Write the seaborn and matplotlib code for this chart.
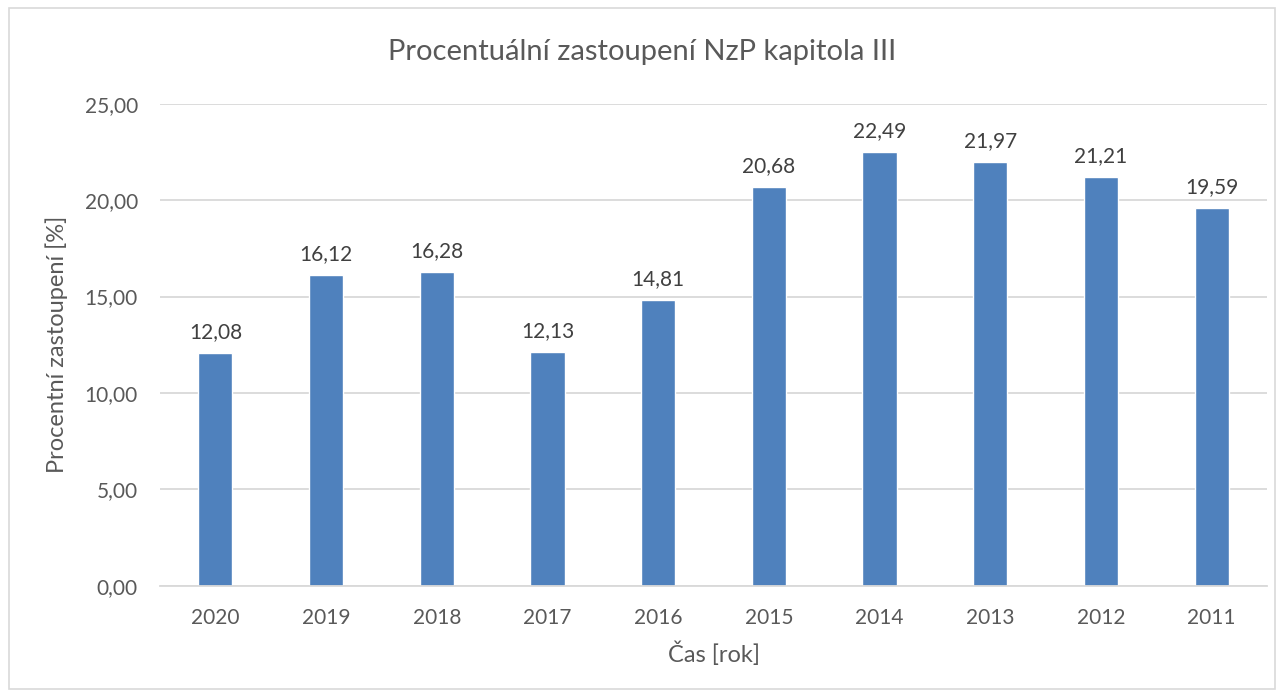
import matplotlib.pyplot as plt
import matplotlib.patches as patches
import pandas as pd
import seaborn as sns

years = ['2020', '2019', '2018', '2017', '2016', '2015', '2014', '2013', '2012', '2011']
shares = [12.08, 16.12, 16.28, 12.13, 14.81, 20.68, 22.49, 21.97, 21.21, 19.59]

BAR = '#4F81BD'
TXT = '#595959'
GRID = '#D9D9D9'

sns.set_theme(style='white')
plt.rcParams['font.family'] = ['Lato', 'DejaVu Sans']

px = 1 / 100
fig = plt.figure(figsize=(1284 * px, 697 * px), dpi=100)
ax = fig.add_axes([0.1246, 0.1597, 0.8622, 0.6915])

df = pd.DataFrame({'year': years, 'share': shares})
sns.barplot(data=df, x='year', y='share', color=BAR, width=0.31, saturation=1, ax=ax)

ax.set_ylim(0, 25)
ax.set_xlim(-0.5, len(years) - 0.5)
ticks = [0, 5, 10, 15, 20, 25]
ax.set_yticks(ticks)
ax.set_yticklabels([f'{t:.2f}'.replace('.', ',') for t in ticks])
ax.yaxis.grid(True, color=GRID, linewidth=1.3)
ax.set_axisbelow(True)
for s in ['top', 'right', 'left']:
  ax.spines[s].set_visible(False)
ax.spines['bottom'].set_color(GRID)
ax.spines['bottom'].set_linewidth(1.3)
ax.tick_params(axis='both', length=0, labelsize=15, colors=TXT)
ax.tick_params(axis='y', pad=16)
ax.tick_params(axis='x', pad=16)

for i, v in enumerate(shares):
  ax.annotate(f'{v:.2f}'.replace('.', ','), (i, v), xytext=(0, 8), textcoords='offset points',
              ha='center', va='bottom', fontsize=15, color='#404040')

ax.set_xlabel('Čas [rok]', fontsize=17, color=TXT, labelpad=10)
ax.set_ylabel('Procentní zastoupení [%]', fontsize=17, color=TXT, labelpad=12)
fig.text(0.5, 0.925, 'Procentuální zastoupení NzP kapitola III', ha='center', va='center',
         fontsize=21, color=TXT)

fig.patches.append(patches.Rectangle((0.007, 0.012), 0.986, 0.976, transform=fig.transFigure,
                                     fill=False, edgecolor=GRID, linewidth=1.2))

fig.savefig('out.png', dpi=100)
